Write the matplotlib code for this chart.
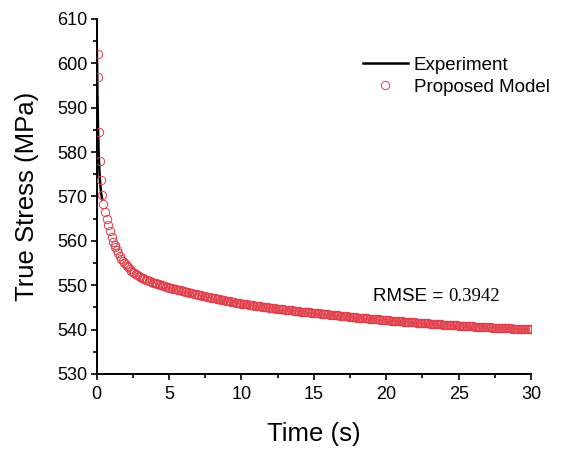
import numpy as np
import matplotlib
matplotlib.use("Agg")
import matplotlib.pyplot as plt
from matplotlib.ticker import MultipleLocator

plt.rcParams['font.family'] = ['Liberation Sans', 'DejaVu Sans']

# Experimental stress relaxation curve
exp_time = [0.0, 0.03, 0.06, 0.1, 0.15, 0.22, 0.3, 0.4, 0.5, 0.6, 0.8, 1.0,
            1.5, 2.0, 3.0, 5.0, 10.0, 20.0, 30.0]
exp_stress = [607.0, 600.0, 592.0, 585.0, 579.0, 574.0, 571.0, 569.0, 567.5,
              566.0, 563.5, 561.3, 557.2, 554.7, 551.9, 549.45, 545.85,
              542.1, 540.05]

# Model prediction: first samples over the first ~1.3 s, then every 0.1 s
model_time_early = [0.1, 0.12, 0.15, 0.22, 0.28, 0.36, 0.46, 0.58, 0.69,
                    0.81, 0.92, 1.04, 1.15, 1.24]
model_stress_early = [602.0, 597.0, 584.6, 578.0, 573.6, 570.4, 568.4, 566.5,
                      564.9, 563.5, 562.2, 560.9, 559.8, 559.1]
model_time_late = np.round(np.arange(1.3, 30.001, 0.1), 2)
model_stress_late = [
    558.7, 557.9, 557.2, 556.6, 556.0, 555.5, 555.1, 554.7,
    554.3, 554.0, 553.65, 553.3, 553.0, 552.75, 552.5, 552.3, 552.1, 551.9,
    551.7, 551.55, 551.4, 551.25, 551.1, 550.95, 550.85, 550.75, 550.6, 550.5,
    550.4, 550.3, 550.2, 550.1, 550.0, 549.9, 549.8, 549.65, 549.55, 549.45,
    549.37, 549.29, 549.21, 549.13, 549.05, 548.97, 548.89, 548.81, 548.73, 548.65,
    548.57, 548.49, 548.41, 548.33, 548.25, 548.17, 548.09, 548.01, 547.93, 547.85,
    547.78, 547.71, 547.64, 547.57, 547.5, 547.43, 547.36, 547.29, 547.22, 547.15,
    547.08, 547.01, 546.94, 546.87, 546.8, 546.73, 546.66, 546.59, 546.52, 546.45,
    546.39, 546.33, 546.27, 546.21, 546.15, 546.09, 546.03, 545.97, 545.91, 545.85,
    545.8, 545.75, 545.7, 545.65, 545.6, 545.55, 545.5, 545.45, 545.4, 545.35,
    545.3, 545.25, 545.2, 545.15, 545.1, 545.06, 545.02, 544.98, 544.94, 544.9,
    544.86, 544.82, 544.78, 544.74, 544.7, 544.66, 544.62, 544.58, 544.54, 544.5,
    544.46, 544.42, 544.38, 544.34, 544.3, 544.26, 544.22, 544.18, 544.14, 544.1,
    544.07, 544.04, 544.01, 543.98, 543.95, 543.91, 543.87, 543.83, 543.79, 543.75,
    543.72, 543.69, 543.66, 543.63, 543.6, 543.56, 543.52, 543.48, 543.44, 543.4,
    543.37, 543.34, 543.31, 543.28, 543.25, 543.21, 543.17, 543.13, 543.09, 543.05,
    543.02, 542.99, 542.96, 542.93, 542.9, 542.86, 542.82, 542.78, 542.74, 542.7,
    542.68, 542.66, 542.63, 542.6, 542.57, 542.54, 542.51, 542.48, 542.44, 542.4,
    542.38, 542.36, 542.33, 542.3, 542.27, 542.24, 542.21, 542.18, 542.14, 542.1,
    542.08, 542.06, 542.04, 542.01, 541.98, 541.96, 541.94, 541.91, 541.88, 541.85,
    541.83, 541.81, 541.78, 541.75, 541.72, 541.7, 541.68, 541.65, 541.62, 541.6,
    541.58, 541.56, 541.54, 541.51, 541.48, 541.46, 541.44, 541.41, 541.38, 541.35,
    541.33, 541.31, 541.29, 541.27, 541.25, 541.22, 541.19, 541.16, 541.13, 541.1,
    541.08, 541.06, 541.04, 541.02, 541.0, 540.98, 540.96, 540.94, 540.92, 540.9,
    540.88, 540.86, 540.84, 540.82, 540.8, 540.78, 540.76, 540.74, 540.72, 540.7,
    540.68, 540.66, 540.64, 540.62, 540.6, 540.58, 540.56, 540.54, 540.52, 540.5,
    540.49, 540.48, 540.46, 540.44, 540.42, 540.41, 540.4, 540.38, 540.36, 540.35,
    540.34, 540.32, 540.3, 540.29, 540.27, 540.26, 540.24, 540.22, 540.21, 540.2,
    540.19, 540.18, 540.16, 540.15, 540.13, 540.12, 540.1, 540.08, 540.07, 540.05,
]
rmse = 0.3942

model_time = np.concatenate([model_time_early, model_time_late])
model_stress = np.concatenate([model_stress_early, model_stress_late])

fig = plt.figure(figsize=(5.65, 4.5), dpi=100)
ax = fig.add_axes([0.171, 0.169, 0.769, 0.789])

ax.plot(exp_time, exp_stress, color="black", lw=1.8, label="Experiment",
        zorder=2)
# white discs underneath so the experiment line is covered by the model band
ax.plot(model_time[6:], model_stress[6:], ls="none", marker="o", ms=6.0,
        mfc="white", mec="none", zorder=2.5)
ax.plot(model_time, model_stress, ls="none", marker="o", ms=6.0,
        mfc="none", mec="#df3f4b", mew=0.7, label="Proposed Model", zorder=3)

ax.set_xlim(0, 30)
ax.set_ylim(530, 610)
ax.xaxis.set_major_locator(MultipleLocator(5))
ax.xaxis.set_minor_locator(MultipleLocator(2.5))
ax.yaxis.set_major_locator(MultipleLocator(10))
ax.yaxis.set_minor_locator(MultipleLocator(5))

for side in ("top", "right"):
    ax.spines[side].set_visible(False)
for side in ("left", "bottom"):
    ax.spines[side].set_linewidth(1.4)

ax.tick_params(which="major", direction="out", length=4.5, width=1.2,
               labelsize=13, pad=2)
ax.tick_params(axis="x", which="major", pad=4)
ax.tick_params(which="minor", direction="out", length=2.8, width=1.2)

ax.set_xlabel("Time (s)", fontsize=18.5, labelpad=14)
ax.set_ylabel("True Stress (MPa)", fontsize=18.5, labelpad=13)

ax.legend(loc="upper right", bbox_to_anchor=(1.068, 0.925), frameon=False,
          fontsize=13.5, handlelength=2.4, handletextpad=0.3,
          labelspacing=0.25, borderaxespad=0.2)

t = ax.text(19.06, 546.4, "RMSE = ", fontsize=13.5, ha="left", va="baseline")
ax.annotate(f"{rmse:.4f}", xy=(1, 0), xycoords=t, va="bottom",
            fontsize=13.5, family=["Liberation Serif", "DejaVu Serif"])

fig.savefig("out.png", dpi=100)
